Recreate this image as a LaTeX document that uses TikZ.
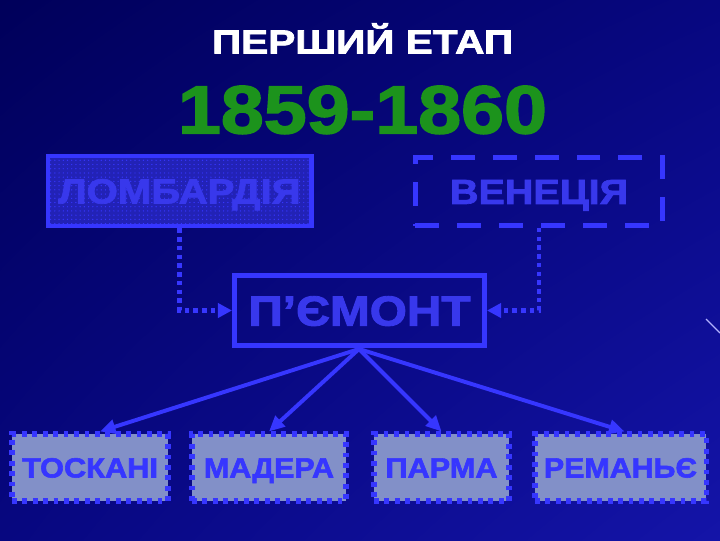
\documentclass[tikz,border=0pt]{standalone}
\usepackage{fontspec}
\usepackage{graphicx}
\setmainfont{Liberation Sans}[BoldFeatures={FakeBold=2}]
\usetikzlibrary{arrows.meta,patterns,shadings}

\definecolor{bgdark}{HTML}{00005A}
\definecolor{bgmid}{HTML}{070780}
\definecolor{bglight}{HTML}{1414A8}
\definecolor{boxblue}{HTML}{3636FF}
\definecolor{txtblue}{HTML}{3838EC}
\definecolor{lombfill}{HTML}{2222B6}
\definecolor{regfill}{HTML}{8290C8}
\definecolor{yeargreen}{HTML}{1C931C}

% stretch a text to a given width, keeping its height
\newcommand{\wide}[2]{\resizebox{#1}{\height}{#2}}

\tikzset{
	mainbox/.style={draw=boxblue,line width=3.5pt,minimum height=1.75cm,inner sep=0pt,
		text=txtblue,font=\bfseries\fontsize{24.8}{28}\selectfont,text height=17.7pt,text depth=0pt},
	region/.style={draw=boxblue,fill=regfill,line width=3.6pt,dash pattern=on 3.4pt off 4pt,
		minimum height=1.675cm,inner sep=0pt,text=boxblue,
		font=\bfseries\fontsize{19.8}{22}\selectfont,text height=14.2pt,text depth=0pt},
	dotlink/.style={draw=boxblue,line width=3.2pt,dash pattern=on 3.2pt off 3pt,
		-{Triangle[length=10pt,width=10pt]}},
	branch/.style={draw=boxblue,line width=2.8pt,-{Triangle[length=11pt,width=10pt]}}
}

\begin{document}
\begin{tikzpicture}[x=0.025cm,y=-0.025cm]
	\useasboundingbox (0,0) rectangle (720,540);
	\shade[upper left=bgdark,upper right=bgmid,lower left=bgmid,lower right=bglight] (0,0) rectangle (720,540);
	\draw[color=blue!30!white,line width=0.8pt] (706,319) -- (720,333);

	\node[text=white,font=\bfseries\fontsize{23.8}{26}\selectfont,inner sep=0pt,text height=17pt,text depth=0pt] (title) at (362.5,41.5){\wide{7.525cm}{ПЕРШИЙ ЕТАП}};
	\node[text=yeargreen,font=\bfseries\fontsize{48.5}{52}\selectfont,inner sep=0pt,text height=34.7pt,text depth=0pt] (year) at (362.5,109){\wide{9.225cm}{1859-1860}};

	\node[mainbox,fill=lombfill,minimum width=6.575cm,postaction={pattern=dots,pattern color=boxblue}] (lomb) at (179.5,191){\wide{6.05cm}{ЛОМБАРДІЯ}};
	\node[mainbox,dash pattern=on 17pt off 12.8pt,minimum width=6.175cm,minimum height=1.7cm] (ven) at (539,191.5){\wide{4.45cm}{ВЕНЕЦІЯ}};
	\node[mainbox,minimum width=6.25cm,font=\bfseries\fontsize{30}{34}\selectfont,text height=21.5pt] (pm) at (359.5,310.5){\wide{5.55cm}{П’ЄМОНТ}};

	\node[region,minimum width=3.9cm] (tosk) at (90,467.5){\wide{3.4cm}{ТОСКАНІ}};
	\node[region,minimum width=3.85cm] (mad) at (269,467.5){\wide{3.25cm}{МАДЕРА}};
	\node[region,minimum width=3.375cm] (parm) at (441.5,467.5){\wide{2.8cm}{ПАРМА}};
	\node[region,minimum width=4.275cm] (rem) at (620.5,467.5){\wide{3.825cm}{РЕМАНЬЄ}};

	\draw[dotlink] (lomb.south) |- (pm.west);
	\draw[dotlink] (ven.south) |- (pm.east);

	\coordinate (hub) at (359,349);
	\draw[branch] (hub) -- ([xshift=0.25cm]tosk.north);
	\draw[branch] (hub) -- (mad.north);
	\draw[branch] (hub) -- (parm.north);
	\draw[branch] (hub) -- ([xshift=0.1cm]rem.north);
\end{tikzpicture}
\end{document}
